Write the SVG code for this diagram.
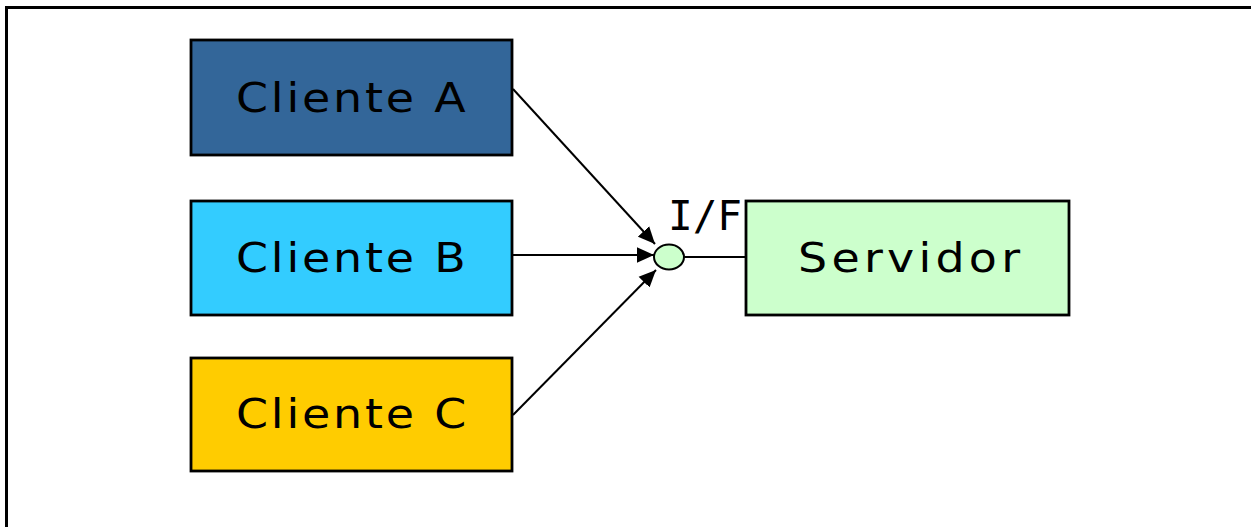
<svg xmlns="http://www.w3.org/2000/svg" width="1251" height="527" viewBox="0 0 1251 527">
<style>
.box{stroke:#000;stroke-width:2.8}
.lbl{font-family:"DejaVu Sans",Verdana,sans-serif;font-size:41px;fill:#000;letter-spacing:2.5px}
.mono{font-family:"DejaVu Sans Mono","Liberation Mono",monospace;font-size:41px;fill:#000}
.conn{stroke:#000;stroke-width:2;fill:none}
</style>
<defs>
<marker id="ah2" viewBox="0 0 10 10" refX="10" refY="5" markerWidth="17" markerHeight="17" markerUnits="userSpaceOnUse" orient="auto">
<path d="M0,0.5 L10,5 L0,9.5 Z" fill="#000"/>
</marker>
</defs>
<rect width="1251" height="527" fill="#fff"/>
<path d="M6.5,527 V7.5 H1251" fill="none" stroke="#000" stroke-width="3"/>
<g id="conn">
<line class="conn" x1="513" y1="89" x2="655" y2="244" marker-end="url(#ah2)"/>
<line class="conn" x1="510" y1="255" x2="654" y2="255" marker-end="url(#ah2)"/>
<line class="conn" x1="513" y1="415" x2="656" y2="270" marker-end="url(#ah2)"/>
<line class="conn" x1="684" y1="257" x2="746" y2="257"/>
</g>
<g id="clienteA">
<rect class="box" x="191" y="40" width="321" height="115" fill="#336699"/>
<text class="lbl" transform="translate(236,112) scale(1.12,1)">Cliente A</text>
</g>
<g id="clienteB">
<rect class="box" x="191" y="201" width="321" height="114" fill="#33ccff"/>
<text class="lbl" transform="translate(236,272) scale(1.12,1)">Cliente B</text>
</g>
<g id="clienteC">
<rect class="box" x="191" y="358" width="321" height="113" fill="#ffcc00"/>
<text class="lbl" transform="translate(236,428) scale(1.12,1)">Cliente C</text>
</g>
<g id="interface">
<ellipse cx="669" cy="257" rx="15" ry="12.5" fill="#ccffcc" stroke="#000" stroke-width="2"/>
<text class="mono" x="668" y="230">I/F</text>
</g>
<g id="servidor">
<rect class="box" x="746" y="201" width="323" height="114" fill="#ccffcc"/>
<text class="lbl" transform="translate(798,272) scale(1.12,1)" style="letter-spacing:3.8px">Servidor</text>
</g>
</svg>
